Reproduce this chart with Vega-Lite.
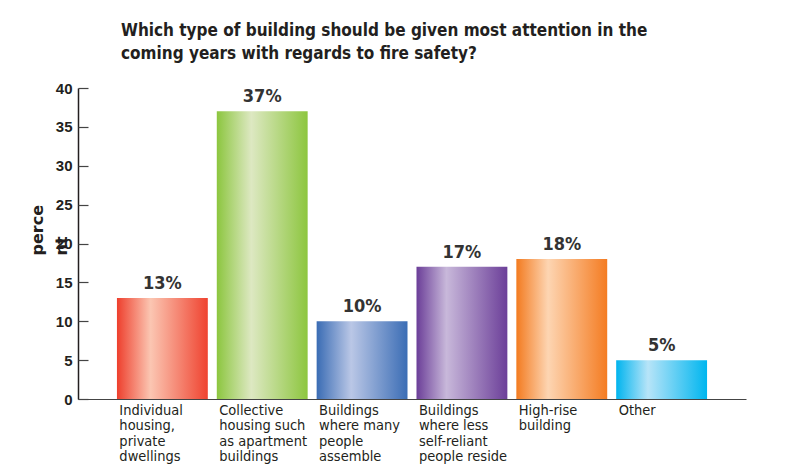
{
  "$schema": "https://vega.github.io/schema/vega-lite/v6.json",
  "width": 668,
  "height": 311,
  "autosize": {"type": "none"},
  "padding": {"left": 78, "top": 88, "right": 45, "bottom": 77},
  "background": "white",
  "config": {"view": {"stroke": null}},
  "title": {
    "text": ["Which type of building should be given most attention in the", "coming years with regards to fire safety?"],
    "anchor": "start",
    "frame": "group",
    "dx": 43,
    "offset": 18,
    "font": "DejaVu Sans Condensed, Roboto",
    "fontSize": 17,
    "fontWeight": "bold",
    "lineHeight": 23,
    "color": "#231f20"
  },
  "data": {
    "values": [
      {"category": "Individual|housing,|private|dwellings", "percent": 13, "label": "13%"},
      {"category": "Collective|housing such|as apartment|buildings", "percent": 37, "label": "37%"},
      {"category": "\u00a0Buildings|\u00a0where many|people|assemble", "percent": 10, "label": "10%"},
      {"category": "\u00a0\u00a0Buildings|\u00a0\u00a0where less|\u00a0self-reliant|people reside", "percent": 17, "label": "17%"},
      {"category": "High-rise|\u00a0\u00a0building", "percent": 18, "label": "18%"},
      {"category": "Other", "percent": 5, "label": "5%"}
    ]
  },
  "resolve": {"axis": {"y": "independent"}},
  "layer": [
    {
      "encoding": {
        "x": {
          "field": "category",
          "type": "nominal",
          "sort": null,
          "scale": {"paddingInner": 0.09, "paddingOuter": 0.39},
          "axis": {
            "title": null,
            "labelAngle": 0,
            "labelAlign": "left",
            "labelBaseline": "top",
            "labelOffset": -43,
            "labelPadding": 4,
            "labelExpr": "split(datum.label, '|')",
            "labelFont": "DejaVu Sans Condensed, Roboto",
            "labelFontSize": 14.5,
            "labelLineHeight": 15.5,
            "labelColor": "#231f20",
            "labelLimit": 200,
            "ticks": false,
            "domainColor": "#444444",
            "domainWidth": 1.2
          }
        },
        "y": {
          "field": "percent",
          "type": "quantitative",
          "scale": {"domain": [0, 40]},
          "axis": {
            "values": [0, 5, 10, 15, 20, 25, 30, 35, 40],
            "grid": false,
            "ticks": false,
            "labelPadding": 6,
            "labelFont": "Liberation Sans",
            "labelFontWeight": "bold",
            "labelFontSize": 15,
            "labelColor": "#231f20",
            "domainColor": "#231f20",
            "domainWidth": 1.5,
            "title": ["perce", "nt"],
            "titleFont": "DejaVu Sans",
            "titleFontSize": 16,
            "titleFontWeight": "bold",
            "titleColor": "#231f20",
            "titleAngle": -90,
            "titleAlign": "left",
            "titleBaseline": "alphabetic",
            "titleLineHeight": 24,
            "titleX": -36,
            "titleY": 167
          }
        }
      },
      "layer": [
        {
          "transform": [{"filter": {"field": "percent", "equal": 13}}],
          "mark": {"type": "bar", "color": {"gradient": "linear", "x1": 0, "x2": 1, "y1": 0, "y2": 0, "stops": [{"offset": 0, "color": "#ee3f2d"}, {"offset": 0.37, "color": "#fbc6b2"}, {"offset": 1, "color": "#ef4330"}]}}
        },
        {
          "transform": [{"filter": {"field": "percent", "equal": 37}}],
          "mark": {"type": "bar", "color": {"gradient": "linear", "x1": 0, "x2": 1, "y1": 0, "y2": 0, "stops": [{"offset": 0, "color": "#8cc63f"}, {"offset": 0.38, "color": "#dde8c2"}, {"offset": 1, "color": "#8dc63f"}]}}
        },
        {
          "transform": [{"filter": {"field": "percent", "equal": 10}}],
          "mark": {"type": "bar", "color": {"gradient": "linear", "x1": 0, "x2": 1, "y1": 0, "y2": 0, "stops": [{"offset": 0, "color": "#3a6cb4"}, {"offset": 0.38, "color": "#bac7e6"}, {"offset": 1, "color": "#3b6db5"}]}}
        },
        {
          "transform": [{"filter": {"field": "percent", "equal": 17}}],
          "mark": {"type": "bar", "color": {"gradient": "linear", "x1": 0, "x2": 1, "y1": 0, "y2": 0, "stops": [{"offset": 0, "color": "#6b3e98"}, {"offset": 0.33, "color": "#c8b8da"}, {"offset": 1, "color": "#6c3f99"}]}}
        },
        {
          "transform": [{"filter": {"field": "percent", "equal": 18}}],
          "mark": {"type": "bar", "color": {"gradient": "linear", "x1": 0, "x2": 1, "y1": 0, "y2": 0, "stops": [{"offset": 0, "color": "#f37b20"}, {"offset": 0.35, "color": "#fdd5b2"}, {"offset": 1, "color": "#f47c22"}]}}
        },
        {
          "transform": [{"filter": {"field": "percent", "equal": 5}}],
          "mark": {"type": "bar", "color": {"gradient": "linear", "x1": 0, "x2": 1, "y1": 0, "y2": 0, "stops": [{"offset": 0, "color": "#00b4ee"}, {"offset": 0.35, "color": "#b7e4f8"}, {"offset": 1, "color": "#00b6ef"}]}}
        },
        {
          "mark": {"type": "text", "dy": -9, "baseline": "alphabetic", "font": "DejaVu Sans Condensed, Roboto", "fontWeight": "bold", "fontSize": 18, "color": "#333333"},
          "encoding": {"text": {"field": "label"}}
        }
      ]
    },
    {
      "mark": {"type": "bar", "opacity": 0},
      "encoding": {
        "x": {"field": "category", "type": "nominal", "sort": null},
        "y": {
          "field": "percent",
          "type": "quantitative",
          "scale": {"domain": [0, 40]},
          "axis": {
            "orient": "right",
            "offset": -668,
            "values": [0, 5, 10, 15, 20, 25, 30, 35, 40],
            "grid": false,
            "labels": false,
            "domain": false,
            "title": null,
            "ticks": true,
            "tickSize": 10,
            "tickColor": "#444444",
            "tickWidth": 1.2
          }
        }
      }
    }
  ]
}
